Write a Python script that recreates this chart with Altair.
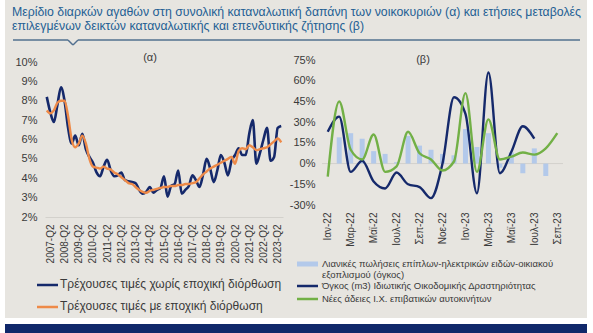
import altair as alt
import pandas as pd

# ---------------- text ----------------
title_lines = [
    "Μερίδιο διαρκών αγαθών στη συνολική καταναλωτική δαπάνη των νοικοκυριών (α) και ετήσιες μεταβολές",
    "επιλεγμένων δεικτών καταναλωτικής και επενδυτικής ζήτησης (β)",
]
panel_titles = ["(α)", "(β)"]

# ---------------- panel (α): quarterly share, % ----------------
quarters = [f"{y}-Q{q}" for y in range(2007, 2024) for q in (1, 2, 3, 4)][:67]
quarter_ticks = [q for q in quarters if q.endswith("Q2")]
share_nsa = [
    8.2, 7.4, 6.9, 7.8,
    8.7, 8.0, 6.6, 5.8,
    6.2, 5.7, 6.3, 5.5,
    5.1, 4.8, 4.3, 4.1,
    4.6, 4.95, 4.4, 4.1,
    4.15, 4.3, 3.9, 3.85,
    3.8, 3.75, 3.4, 3.2,
    3.3, 3.55, 3.25, 3.4,
    3.5, 4.1, 3.05, 3.6,
    3.7, 4.4, 3.2, 3.4,
    3.6, 4.15, 3.9, 3.55,
    4.2, 5.0, 4.5, 3.8,
    4.4, 5.2, 4.8, 4.15,
    4.9, 5.2, 5.55, 5.2,
    5.2, 6.3, 7.0, 4.75,
    5.3, 6.0, 6.6, 4.9,
    5.1, 6.6, 6.7,
]
share_sa = [
    7.5, 7.35, 7.5, 7.9,
    8.0, 8.0, 7.2, 6.0,
    5.6, 5.8, 6.2, 5.8,
    5.0, 4.6, 4.55, 4.5,
    4.6, 4.5, 4.45, 4.3,
    4.2, 4.05, 3.9, 3.75,
    3.7, 3.55, 3.4, 3.3,
    3.25, 3.35, 3.4, 3.45,
    3.5, 3.55, 3.55, 3.6,
    3.6, 3.65, 3.65, 3.7,
    3.7, 3.75, 3.8, 4.0,
    4.2, 4.35, 4.5, 4.6,
    4.7, 4.8, 4.9, 5.0,
    5.1, 4.75, 5.4, 5.55,
    5.5, 5.7, 5.6, 5.45,
    5.5, 5.55, 5.6, 5.75,
    5.9, 6.05, 5.85,
]
left_series = [
    "Τρέχουσες τιμές χωρίς εποχική διόρθωση",
    "Τρέχουσες τιμές με εποχική διόρθωση",
]
left_ticks = [0.02, 0.03, 0.04, 0.05, 0.06, 0.07, 0.08, 0.09, 0.10]

# ---------------- panel (β): monthly y/y changes, % ----------------
months = ["Ιαν-22", "Φεβ-22", "Μαρ-22", "Απρ-22", "Μαϊ-22", "Ιουν-22", "Ιουλ-22",
          "Αυγ-22", "Σεπ-22", "Οκτ-22", "Νοε-22", "Δεκ-22", "Ιαν-23", "Φεβ-23",
          "Μαρ-23", "Απρ-23", "Μαϊ-23", "Ιουν-23", "Ιουλ-23", "Αυγ-23", "Σεπ-23"]
month_ticks = months[::2]
retail_sales = [None, 19, 22, 18, 9, 7, 1, 20, 13, 10, 7, 6, 25, 12, 22, -3, 8, -7, 11, -9, None]
building_volume = [23, 34, -6, 2, -13, -18, -6.5, -15, -17, -25, 0, 48, 36, -21.5, 66, -7, 8.5, 27, 18,
                   None, None]
car_licences = [-9.5, 45, 10, 3, 21, -6, -2, 23, 7.5, 3, -5, 1.5, 51, -6, 32, 3, 5, 8, 6.5, 11, 22]
right_series = [
    "Λιανικές πωλήσεις επίπλων-ηλεκτρικών ειδών-οικιακού",
    "εξοπλισμού (όγκος)",
    "Όγκος (m3) Ιδιωτικής Οικοδομικής Δραστηριότητας",
    "Νέες άδειες Ι.Χ. επιβατικών αυτοκινήτων",
]
right_ticks = [-0.30, -0.15, 0.0, 0.15, 0.30, 0.45, 0.60, 0.75]

# ---------------- style ----------------
BG = "#e7e5e0"
NAVY = "#15296b"
ORANGE = "#ee8a48"
GREEN = "#72b046"
LIGHTBLUE = "#b3c9ea"
TEXT = "#3a3a3a"
TITLE = "#245f94"
SEP = "#52708f"
BAND = "#10286a"
FONT = "Liberation Sans"

LW, LH = 238, 155     # left plot area  (page x 45..283, y 62..217)
RW, RH = 241, 143     # right plot area (page x 322..563, y 62..205)
OX, OY = 45, 62       # page position of left plot origin

one = pd.DataFrame({"a": [0]})

# ---------------- left panel ----------------
ldf = pd.DataFrame({
    "q": quarters * 2,
    "v": [v / 100 for v in share_nsa] + [v / 100 for v in share_sa],
    "s": [left_series[0]] * len(quarters) + [left_series[1]] * len(quarters),
})

xl = alt.X("q:O", sort=quarters,
           scale=alt.Scale(type="point", padding=0.5),
           axis=alt.Axis(values=quarter_ticks, labelAngle=-90, ticks=False, domain=True,
                         domainColor="#d3d1cc", domainWidth=1, labelPadding=7, labelFontSize=10,
                         labelColor=TEXT, labelFont=FONT, title=None, labelOverlap=False, zindex=1))
yl = alt.Y("v:Q", scale=alt.Scale(domain=[0.02, 0.10], nice=False, zero=False),
           axis=alt.Axis(values=left_ticks, format=".0%", grid=False, domain=False, ticks=False,
                         labelPadding=8, labelFontSize=11, labelColor=TEXT, labelFont=FONT, title=None,
                         labelOverlap=False, zindex=1))

base_l = alt.Chart(ldf)
nsa_line = base_l.transform_filter(alt.datum.s == left_series[0]).mark_line(
    color=NAVY, strokeWidth=2.6, interpolate="monotone").encode(x=xl, y=yl)
sa_line = base_l.transform_filter(alt.datum.s == left_series[1]).mark_line(
    color=ORANGE, strokeWidth=2.4, interpolate="monotone").encode(x=xl, y=yl)

def rect(x0, y0, x1, y1, color):
    return alt.Chart(one).mark_rect(color=color, strokeWidth=0).encode(
        x=alt.value(x0 - OX), x2=alt.value(x1 - OX), y=alt.value(y0 - OY), y2=alt.value(y1 - OY))

def seg(x0, y0, x1, y1, color, w):
    return alt.Chart(one).mark_rule(color=color, strokeWidth=w).encode(
        x=alt.value(x0 - OX), x2=alt.value(x1 - OX), y=alt.value(y0 - OY), y2=alt.value(y1 - OY))

def txt(x, y, s, size, color, **kw):
    return alt.Chart(one).mark_text(align="left", baseline="middle", font=FONT, fontSize=size,
                                    color=color, **kw).encode(
        x=alt.value(x - OX), y=alt.value(y - OY), text=alt.value(s))

deco_l = [
    rect(0, 0, 593, 333, "white"),
    rect(5, 0, 587, 318, BG),
    rect(5, 324, 587, 333, BAND),
    txt(12, 12, title_lines[0], 12.3, TITLE),
    txt(12, 26, title_lines[1], 12.3, TITLE),
    seg(13, 40, 68, 40, SEP, 1.5),
    seg(68, 40, 73, 45, SEP, 1.5),
    seg(73, 45, 78, 40, SEP, 1.5),
    seg(78, 40, 580, 40, SEP, 1.5),
    alt.Chart(one).mark_text(align="center", baseline="middle", font=FONT, fontSize=11, color=TEXT).encode(
        x=alt.value(150 - OX), y=alt.value(58 - OY), text=alt.value(panel_titles[0])),
    seg(37, 285, 58, 285, NAVY, 2.5),
    txt(60, 284, left_series[0], 12, TEXT),
    seg(37, 307, 58, 307, ORANGE, 2.5),
    txt(60, 306, left_series[1], 12, TEXT),
]

left = alt.layer(*deco_l, nsa_line, sa_line).properties(width=LW, height=LH)

# ---------------- right panel ----------------
RX = 322
rdf = pd.DataFrame({
    "m": months,
    "retail": [None if v is None else v / 100 for v in retail_sales],
    "build": [None if v is None else v / 100 for v in building_volume],
    "cars": [v / 100 for v in car_licences],
})

xr = alt.X("m:O", sort=months, scale=alt.Scale(type="point", padding=0.5),
           axis=alt.Axis(values=month_ticks, labelAngle=-90, ticks=False, domain=False,
                         labelPadding=7, labelFontSize=10, labelColor=TEXT, labelFont=FONT,
                         title=None, labelOverlap=False, zindex=1))
yscale = alt.Scale(domain=[-0.30, 0.75], nice=False, zero=False, range=[RH, -2])
yaxis = alt.Axis(values=right_ticks, grid=False, domain=False, ticks=False,
                 labelExpr="replace(format(datum.value, '.0%'), '\u2212', '-')",
                 labelPadding=7, labelFontSize=11, labelColor=TEXT, labelFont=FONT, title=None,
                 labelOverlap=False, zindex=1)

base_r = alt.Chart(rdf)
zero = alt.Chart(pd.DataFrame({"z": [0.0]})).mark_rule(color="#d3d1cc", strokeWidth=1).encode(
    y=alt.Y("z:Q", scale=yscale, axis=yaxis))
bars = base_r.transform_filter("isValid(datum.retail)").mark_bar(size=5, color=LIGHTBLUE).encode(
    x=xr, y=alt.Y("retail:Q", scale=yscale, axis=yaxis))
build_line = base_r.transform_filter("isValid(datum.build)").mark_line(
    color=NAVY, strokeWidth=2.4, interpolate="monotone").encode(
    x=xr, y=alt.Y("build:Q", scale=yscale, axis=yaxis))
car_line = base_r.mark_line(color=GREEN, strokeWidth=2.4, interpolate="monotone").encode(
    x=xr, y=alt.Y("cars:Q", scale=yscale, axis=yaxis))

def rseg(x0, y0, x1, y1, color, w):
    return alt.Chart(one).mark_rule(color=color, strokeWidth=w).encode(
        x=alt.value(x0 - RX), x2=alt.value(x1 - RX), y=alt.value(y0 - OY), y2=alt.value(y1 - OY))

def rtxt(x, y, s, size, color):
    return alt.Chart(one).mark_text(align="left", baseline="middle", font=FONT, fontSize=size,
                                    color=color).encode(
        x=alt.value(x - RX), y=alt.value(y - OY), text=alt.value(s))

deco_r = [
    alt.Chart(one).mark_text(align="center", baseline="middle", font=FONT, fontSize=11, color=TEXT).encode(
        x=alt.value(423 - RX), y=alt.value(60 - OY), text=alt.value(panel_titles[1])),
    rseg(297, 264, 318, 264, LIGHTBLUE, 5),
    rtxt(322, 264, right_series[0], 9.5, TEXT),
    rtxt(322, 274.5, right_series[1], 9.5, TEXT),
    rseg(297, 286, 318, 286, NAVY, 2.5),
    rtxt(322, 285.5, right_series[2], 9.5, TEXT),
    rseg(297, 299, 318, 299, GREEN, 2.5),
    rtxt(322, 298.5, right_series[3], 9.5, TEXT),
]

right = alt.layer(zero, bars, build_line, car_line, *deco_r).properties(width=RW, height=RH)

chart = alt.hconcat(left, right, spacing=39, bounds="flush").configure_view(
    stroke=None).properties(padding=0, background="white")

chart.save("out.html", embed_options={"renderer": "svg", "actions": False})
